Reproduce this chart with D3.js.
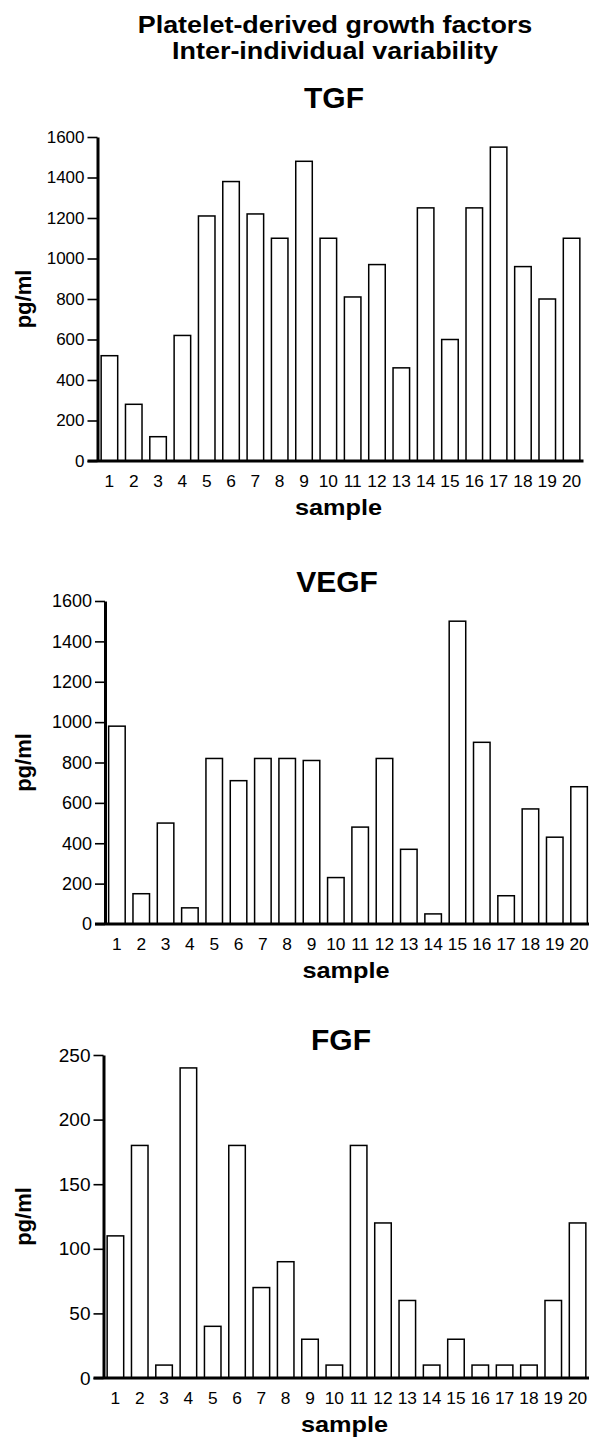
<!DOCTYPE html>
<html>
<head>
<meta charset="utf-8">
<script src="https://cdn.jsdelivr.net/npm/d3@7/dist/d3.min.js"></script>
<style>
	body { margin: 0; background: #fff; }
	svg { display: block; font-family: Arial, "Liberation Sans", sans-serif; }
</style>
</head>
<body>
<div id="chart"></div>
<script>
var samples = ["1", "2", "3", "4", "5", "6", "7", "8", "9", "10", "11", "12", "13", "14", "15", "16", "17", "18", "19", "20"];
var tgf = [520, 280, 120, 620, 1210, 1380, 1220, 1100, 1480, 1100, 810, 970, 460, 1250, 600, 1250, 1550, 960, 800, 1100];
var vegf = [980, 150, 500, 80, 820, 710, 820, 820, 810, 230, 480, 820, 370, 50, 1500, 900, 140, 570, 430, 680];
var fgf = [110, 180, 10, 240, 40, 180, 70, 90, 30, 10, 180, 120, 60, 10, 30, 10, 10, 10, 60, 120];
var pgTicks = [0, 200, 400, 600, 800, 1000, 1200, 1400, 1600];
var fgfTicks = [0, 50, 100, 150, 200, 250];
var mainTitle = ["Platelet-derived growth factors", "Inter-individual variability"];

var W = 589, H = 1438;
var svg = d3.select("#chart").append("svg")
	.attr("width", W)
	.attr("height", H);

// text helper, sx stretches glyphs horizontally like the scanned figure
function label(g, str, x, y, size, opt) {
	opt = opt || {};
	var t = "translate(" + x + "," + y + ")";
	if (opt.rotate) t += " rotate(" + opt.rotate + ")";
	if (opt.sx) t += " scale(" + opt.sx + ",1)";
	return g.append("text")
		.attr("transform", t)
		.attr("text-anchor", opt.anchor || "middle")
		.attr("font-size", size)
		.attr("font-weight", opt.weight || "normal")
		.attr("fill", "#000")
		.text(str);
}

label(svg, mainTitle[0], 335, 33, 23, {weight: "bold", sx: 1.17});
label(svg, mainTitle[1], 335, 59, 23, {weight: "bold", sx: 1.17});

var panels = [
	{name: "TGF", values: tgf, ticks: pgTicks, max: 1600, axisX: 97.5, top: 137, base: 461, titleX: 334, titleY: 108, yFont: 17},
	{name: "VEGF", values: vegf, ticks: pgTicks, max: 1600, axisX: 105, top: 601, base: 924, titleX: 337, titleY: 592, yFont: 18},
	{name: "FGF", values: fgf, ticks: fgfTicks, max: 250, axisX: 103.5, top: 1055, base: 1378, titleX: 341, titleY: 1050, yFont: 19}
];

panels.forEach(function(p) {
	var g = svg.append("g");
	var x = d3.scaleBand()
		.domain(samples)
		.range([p.axisX, p.axisX + 486])
		.paddingInner(0.32)
		.paddingOuter(0.15);
	var y = d3.scaleLinear()
		.domain([0, p.max])
		.range([p.base, p.top]);

	label(g, p.name, p.titleX, p.titleY, 30, {weight: "bold"});

	g.selectAll("rect.bar")
		.data(p.values)
		.enter()
		.append("rect")
		.attr("class", "bar")
		.attr("x", function(d, i) { return x(samples[i]); })
		.attr("y", function(d) { return y(d); })
		.attr("width", x.bandwidth())
		.attr("height", function(d) { return y(0) - y(d); })
		.attr("fill", "#fff")
		.attr("stroke", "#000")
		.attr("stroke-width", 1.5);

	// y axis
	var yAxis = g.append("g")
		.attr("transform", "translate(" + p.axisX + ",0)")
		.call(d3.axisLeft(y).tickValues(p.ticks).tickSize(10).tickSizeOuter(0).tickPadding(3).tickFormat(d3.format("d")));
	yAxis.select(".domain").attr("stroke-width", 3).attr("stroke", "#000");
	yAxis.selectAll(".tick line").attr("stroke-width", 1.6).attr("stroke", "#000");
	yAxis.selectAll(".tick text")
		.attr("font-size", p.yFont)
		.attr("font-family", "Arial, 'Liberation Sans', sans-serif")
		.attr("fill", "#000");

	// x axis, labels only, the base line is drawn below
	var xAxis = g.append("g")
		.attr("transform", "translate(0," + p.base + ")")
		.call(d3.axisBottom(x).tickSize(0).tickPadding(14));
	xAxis.select(".domain").remove();
	xAxis.selectAll(".tick text")
		.attr("font-size", 16.5)
		.attr("transform", "scale(1.05,1)")
		.attr("font-family", "Arial, 'Liberation Sans', sans-serif")
		.attr("fill", "#000");
	g.append("line")
		.attr("x1", p.axisX - 10)
		.attr("x2", p.axisX + 486)
		.attr("y1", p.base)
		.attr("y2", p.base)
		.attr("stroke", "#000")
		.attr("stroke-width", 3);

	label(g, "pg/ml", 31, (p.top + p.base) / 2, 22, {weight: "bold", rotate: -90});
	label(g, "sample", p.axisX + 243 - 2, p.base + 54, 22, {weight: "bold", sx: 1.15});
});
</script>
</body>
</html>
